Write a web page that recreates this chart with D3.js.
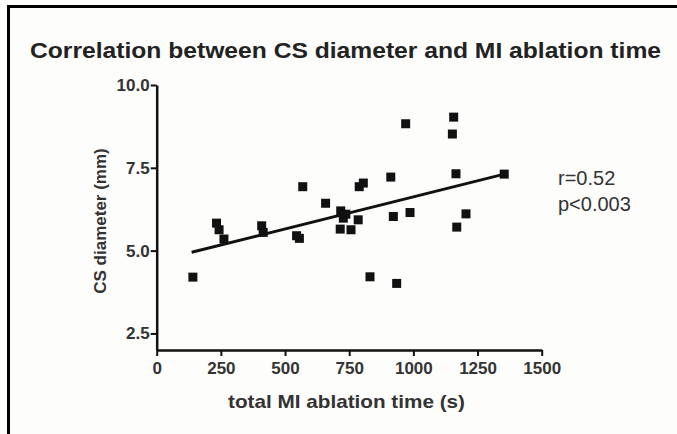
<!DOCTYPE html>
<html>
<head>
<meta charset="utf-8">
<script src="https://cdn.jsdelivr.net/npm/d3@7"></script>
<style>
  body { margin: 0; background: #fdfdfb; }
  svg { display: block; }
  .axis path, .axis line { stroke: #111; }
  .axis text { font-family: "Liberation Sans", Arial, sans-serif; font-weight: bold; fill: #333; }
</style>
</head>
<body>
<div id="chart"></div>
<script>
// values
var ablationTime = [141, 233, 243, 262, 409, 415, 545, 556, 569, 658,
                    717, 737, 727, 715, 757, 785, 789, 805, 831, 912,
                    922, 935, 970, 987, 1152, 1157, 1166, 1169, 1205, 1354];
var csDiameter   = [4.2, 5.83, 5.63, 5.35, 5.75, 5.55, 5.45, 5.37, 6.93, 6.43,
                    6.2, 6.1, 5.98, 5.65, 5.63, 5.93, 6.93, 7.04, 4.21, 7.22,
                    6.03, 4.01, 8.83, 6.15, 8.52, 9.03, 7.32, 5.71, 6.11, 7.31];
var fitX = [136, 1354];
var fitY = [4.95, 7.31];
var xTicks = [0, 250, 500, 750, 1000, 1250, 1500];
var yTicks = [2.5, 5.0, 7.5, 10.0];
var statLines = ["r=0.52", "p<0.003"];

var width = 677, height = 434;
var svg = d3.select("#chart").append("svg")
    .attr("width", width)
    .attr("height", height);

// frame (only top and left edges show)
svg.append("path")
    .attr("d", "M8.5,440 V6.5 H690")
    .attr("fill", "none")
    .attr("stroke", "#000")
    .attr("stroke-width", 3);

var x = d3.scaleLinear().domain([0, 1500]).range([156.7, 541.7]);
var y = d3.scaleLinear().domain([2, 10]).range([350, 85]);

var xAxis = svg.append("g")
    .attr("class", "axis")
    .attr("transform", "translate(0,350)")
    .call(d3.axisBottom(x).tickValues(xTicks).tickFormat(d3.format("d"))
        .tickSize(6).tickSizeOuter(0).tickPadding(6));
xAxis.select(".domain").attr("stroke-width", 2.5);
xAxis.selectAll(".tick line").attr("stroke-width", 2);
xAxis.selectAll(".tick text").style("font-size", "17px");

var yAxis = svg.append("g")
    .attr("class", "axis")
    .attr("transform", "translate(156.7,0)")
    .call(d3.axisLeft(y).tickValues(yTicks).tickFormat(d3.format(".1f"))
        .tickSize(6).tickSizeOuter(0).tickPadding(1));
yAxis.select(".domain").attr("stroke-width", 2.5);
yAxis.selectAll(".tick line").attr("stroke-width", 2);
yAxis.selectAll(".tick text").style("font-size", "17px");

// fit line
svg.append("line")
    .attr("x1", x(fitX[0])).attr("y1", y(fitY[0]))
    .attr("x2", x(fitX[1])).attr("y2", y(fitY[1]))
    .attr("stroke", "#111")
    .attr("stroke-width", 3);

// points
var pts = d3.zip(ablationTime, csDiameter);
svg.selectAll("rect.pt")
    .data(pts)
    .enter()
    .append("rect")
    .attr("class", "pt")
    .attr("x", function(d) { return x(d[0]) - 4.5; })
    .attr("y", function(d) { return y(d[1]) - 4.5; })
    .attr("width", 9)
    .attr("height", 9)
    .attr("fill", "#111");

// title
svg.append("text")
    .attr("x", 30)
    .attr("y", 58)
    .attr("textLength", 631)
    .attr("lengthAdjust", "spacingAndGlyphs")
    .style("font-family", "Liberation Sans, Arial, sans-serif")
    .style("font-weight", "bold")
    .style("font-size", "22px")
    .style("fill", "#222")
    .text("Correlation between CS diameter and MI ablation time");

svg.append("text")
    .attr("x", 228)
    .attr("y", 408)
    .attr("textLength", 237)
    .attr("lengthAdjust", "spacingAndGlyphs")
    .style("font-family", "Liberation Sans, Arial, sans-serif")
    .style("font-weight", "bold")
    .style("font-size", "19px")
    .style("fill", "#333")
    .text("total MI ablation time (s)");

svg.append("text")
    .attr("transform", "translate(106,221) rotate(-90)")
    .attr("text-anchor", "middle")
    .style("font-family", "Liberation Sans, Arial, sans-serif")
    .style("font-weight", "bold")
    .style("font-size", "17px")
    .style("fill", "#333")
    .text("CS diameter (mm)");

svg.selectAll("text.stat")
    .data(statLines)
    .enter()
    .append("text")
    .attr("class", "stat")
    .attr("x", 558)
    .attr("y", function(d, i) { return 185 + i * 26; })
    .style("font-family", "Liberation Sans, Arial, sans-serif")
    .style("font-size", "20px")
    .style("fill", "#333")
    .text(function(d) { return d; });
</script>
</body>
</html>
